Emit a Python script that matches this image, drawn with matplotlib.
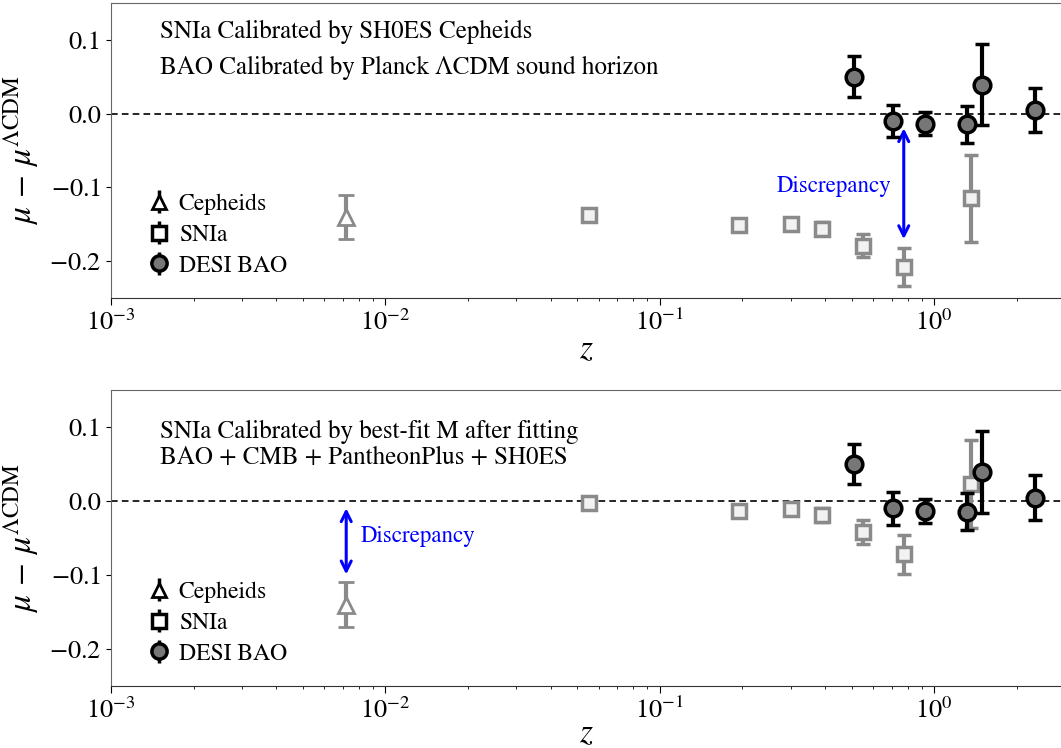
import numpy as np
import matplotlib
matplotlib.use('Agg')
import matplotlib.pyplot as plt

plt.rcParams['font.family'] = ['STIXGeneral', 'DejaVu Serif']
plt.rcParams['mathtext.fontset'] = 'stix'

# Data
z_ceph = [0.0072]
dmu_ceph = [-0.140]
err_ceph = [0.030]

z_sn = [0.055, 0.195, 0.30, 0.39, 0.55, 0.775, 1.36]
dmu_sn_shoes = [-0.138, -0.151, -0.149, -0.156, -0.179, -0.208, -0.115]
dmu_sn_fit = [-0.003, -0.014, -0.011, -0.019, -0.042, -0.072, 0.023]
err_sn = [0.005, 0.008, 0.008, 0.009, 0.016, 0.026, 0.059]

z_bao = [0.51, 0.71, 0.93, 1.32, 1.49, 2.33]
dmu_bao = [0.050, -0.010, -0.0135, -0.0145, 0.039, 0.0045]
err_bao = [0.0275, 0.022, 0.016, 0.025, 0.055, 0.030]

titles = [['SNIa Calibrated by SH0ES Cepheids',
           'BAO Calibrated by Planck \u039bCDM sound horizon'],
          ['SNIa Calibrated by best-fit M after fitting',
           'BAO + CMB + PantheonPlus + SH0ES']]
title_y = [[0.902, 0.780], [0.858, 0.770]]

fig = plt.figure(figsize=(10.61, 7.48), dpi=100)
ax1 = fig.add_axes([0.1046, 0.6016, 0.8954, 0.3944])
ax2 = fig.add_axes([0.1046, 0.0829, 0.8954, 0.3957])

grey = '#8a8a8a'

for i, ax in enumerate([ax1, ax2]):
    dmu_sn = dmu_sn_shoes if i == 0 else dmu_sn_fit
    ax.axhline(0, color='black', ls='--', lw=1.2, dashes=(4, 2.5), zorder=1)

    ax.errorbar(z_ceph, dmu_ceph, yerr=err_ceph, fmt='^', color=grey, mfc='white',
                mec=grey, ms=11, mew=2, elinewidth=3, capsize=6, capthick=3, zorder=3)
    ax.errorbar(z_sn, dmu_sn, yerr=err_sn, fmt='s', color=grey, mfc='#f2f2f2',
                mec=grey, ms=10, mew=2.5, elinewidth=3, capsize=5, capthick=3, zorder=3)
    ax.errorbar(z_bao, dmu_bao, yerr=err_bao, fmt='o', color='black', mfc='#777777',
                mec='black', ms=12, mew=2.5, elinewidth=3, capsize=5, capthick=3, zorder=4)

    # legend handles in black
    h1 = ax.errorbar([np.nan], [np.nan], yerr=[0.01], fmt='^', color='black', mfc='white',
                     mec='black', ms=10, mew=2, elinewidth=2.5, capsize=0, label='Cepheids')
    h2 = ax.errorbar([np.nan], [np.nan], yerr=[0.01], fmt='s', color='black', mfc='white',
                     mec='black', ms=10, mew=2.5, elinewidth=2.5, capsize=0, label='SNIa')
    h3 = ax.errorbar([np.nan], [np.nan], yerr=[0.01], fmt='o', color='black', mfc='#777777',
                     mec='black', ms=11, mew=2.5, elinewidth=2.5, capsize=0, label='DESI BAO')
    ax.legend(handles=[h1, h2, h3], loc='lower left', bbox_to_anchor=(0.018, 0.0),
              frameon=False, fontsize=17, handlelength=0.8, handletextpad=0.45,
              labelspacing=0.4)

    ax.set_xscale('log')
    ax.set_xlim(1e-3, 2.9)
    ax.set_ylim(-0.25, 0.15)
    ax.set_yticks([-0.2, -0.1, 0.0, 0.1])
    ax.set_yticklabels(['$-0.2$', '$-0.1$', '0.0', '0.1'])
    ax.tick_params(axis='both', labelsize=19)
    ax.tick_params(axis='x', which='major', length=5)
    ax.set_xlabel('$z$', fontsize=24, labelpad=0 if i == 0 else -3)
    ax.set_ylabel(r'$\mu\,-\,\mu^{\Lambda\mathrm{CDM}}$', fontsize=24, labelpad=6)

    ax.spines['right'].set_visible(False)
    for s in ['top', 'left']:
        ax.spines[s].set_color('#666666')
    ax.spines['bottom'].set_color('#333333')

    for line, yy in zip(titles[i], title_y[i]):
        ax.text(0.052, yy, line, transform=ax.transAxes, fontsize=18, va='center')

# discrepancy arrows
ax1.annotate('', xy=(0.775, -0.016), xytext=(0.775, -0.174),
             arrowprops=dict(arrowstyle='<->', color='blue', lw=2.2, mutation_scale=18))
ax1.text(0.70, -0.099, 'Discrepancy', color='blue', fontsize=16.5, ha='right', va='center')

ax2.annotate('', xy=(0.0072, -0.006), xytext=(0.0072, -0.103),
             arrowprops=dict(arrowstyle='<->', color='blue', lw=2.2, mutation_scale=18))
ax2.text(0.0081, -0.048, 'Discrepancy', color='blue', fontsize=16.5, ha='left', va='center')

fig.savefig('out.png', dpi=100)
